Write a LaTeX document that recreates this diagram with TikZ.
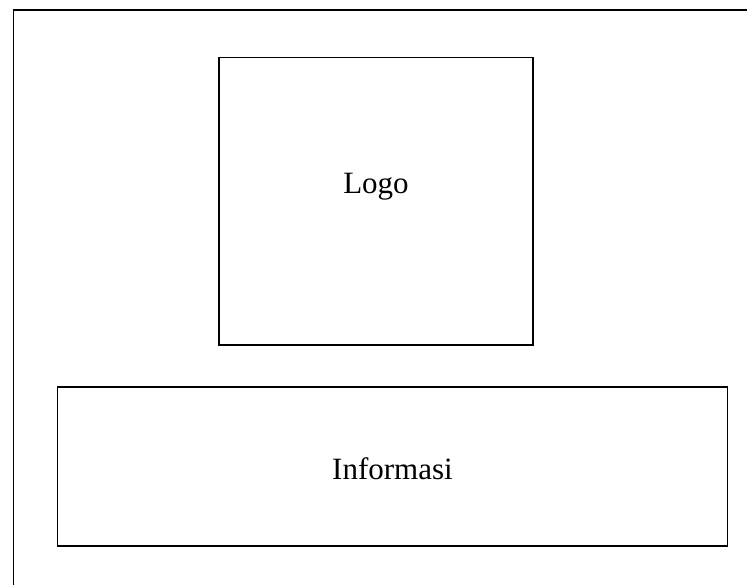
\documentclass[tikz,border=0pt]{standalone}
\usepackage{fontspec}
\setmainfont{Liberation Serif}
\begin{document}
\begin{tikzpicture}[x=1pt,y=-1pt,
  box/.style={draw=black,line width=1.6pt,inner sep=0pt},
  lbl/.style={anchor=base,inner sep=0pt,font=\fontsize{31}{36}\selectfont}]
\useasboundingbox (0,0) rectangle (747,585);
\draw[line width=1.6pt] (13.5,585) -- (13.5,10) -- (747,10);
\node[box,minimum width=314pt,minimum height=287.5pt] (logo) at (376,201.25) {};
\node[box,minimum width=670pt,minimum height=159pt] (info) at (392.5,466.5) {};
\node[lbl] (logotext) at (376,194) {Logo};
\node[lbl] (infotext) at (392.5,479) {Informasi};
\end{tikzpicture}
\end{document}
